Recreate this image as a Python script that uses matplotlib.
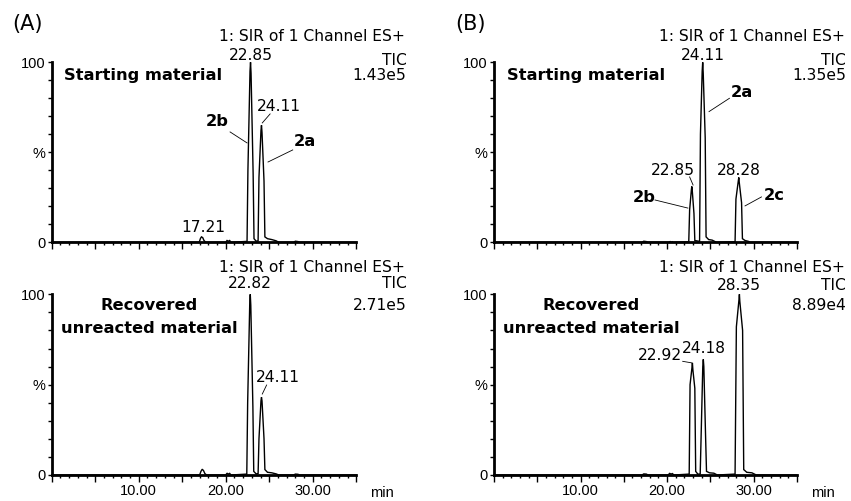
import matplotlib
matplotlib.use("Agg")
import matplotlib.pyplot as plt
from matplotlib.ticker import MultipleLocator, FixedLocator, FuncFormatter

# ---- chromatogram traces: retention time (min), intensity (%) ----
# (A) starting material
t_a_start = [0.0, 16.95, 17.1, 17.21, 17.35, 17.5, 17.7, 20.0, 20.15, 20.3, 20.45, 20.6,
             22.45, 22.55, 22.79, 22.85, 22.91, 23.15, 23.25, 23.5,
             23.72, 23.82, 24.05, 24.11, 24.17, 24.4, 24.5, 24.8, 25.3, 25.8, 26.1,
             27.8, 28.0, 28.3, 28.5, 35.0]
y_a_start = [0.0, 0.0, 2.2, 3.0, 2.6, 1.0, 0.0, 0.0, 1.0, 0.6, 1.0, 0.0,
             0.5, 40.0, 95.0, 100.0, 94.0, 38.0, 2.0, 0.6,
             0.8, 36.0, 62.0, 65.0, 61.0, 34.0, 3.0, 2.0, 1.5, 0.8, 0.0,
             0.0, 0.6, 0.4, 0.0, 0.0]
# (A) recovered unreacted material
t_a_rec = [0.0, 17.0, 17.15, 17.3, 17.45, 17.6, 17.8, 20.0, 20.15, 20.3, 20.45, 20.6,
           22.42, 22.52, 22.76, 22.82, 22.88, 23.12, 23.22, 23.5,
           23.72, 23.82, 24.05, 24.11, 24.17, 24.4, 24.5, 24.8, 25.3, 25.8, 26.1,
           27.8, 28.0, 28.3, 28.5, 35.0]
y_a_rec = [0.0, 0.0, 2.0, 3.2, 2.4, 0.8, 0.0, 0.0, 1.0, 0.5, 0.9, 0.0,
           0.5, 40.0, 95.0, 100.0, 94.0, 38.0, 2.0, 0.6,
           0.8, 20.0, 41.0, 43.0, 41.0, 20.0, 3.0, 1.5, 1.2, 0.6, 0.0,
           0.0, 0.5, 0.4, 0.0, 0.0]
# (B) starting material
t_b_start = [0.0, 17.1, 17.3, 17.6, 17.8, 20.2, 20.35, 20.5, 20.6, 20.7,
             22.5, 22.6, 22.8, 22.85, 22.9, 23.1, 23.2,
             23.75, 23.85, 24.05, 24.11, 24.17, 24.4, 24.5, 24.8, 25.2, 25.7,
             27.85, 27.95, 28.22, 28.28, 28.34, 28.6, 28.7, 29.0, 29.4, 29.6, 35.0]
y_b_start = [0.0, 0.0, 0.6, 0.4, 0.0, 0.0, 0.4, 0.0, 0.3, 0.0,
             0.3, 18.0, 29.0, 31.0, 29.0, 16.0, 1.0,
             0.5, 60.0, 95.0, 100.0, 94.0, 58.0, 3.0, 1.5, 1.2, 0.0,
             0.3, 24.0, 34.0, 36.0, 33.0, 22.0, 2.0, 1.0, 0.5, 0.0, 0.0]
# (B) recovered unreacted material
t_b_rec = [0.0, 17.1, 17.3, 17.6, 17.8, 20.1, 20.3, 20.45, 20.6, 20.8,
           22.55, 22.65, 22.86, 22.92, 22.98, 23.2, 23.3, 23.55,
           23.82, 23.92, 24.12, 24.18, 24.24, 24.45, 24.55, 24.9, 25.4, 25.8,
           27.85, 28.0, 28.3, 28.35, 28.4, 28.72, 28.85, 29.2, 29.8, 30.3, 35.0]
y_b_rec = [0.0, 0.0, 0.6, 0.5, 0.0, 0.0, 0.9, 0.5, 0.8, 0.0,
           0.5, 50.0, 59.0, 62.0, 58.0, 48.0, 2.0, 0.5,
           0.5, 20.0, 60.0, 64.0, 60.0, 20.0, 2.0, 1.2, 1.0, 0.0,
           0.5, 82.0, 97.0, 100.0, 96.0, 80.0, 3.0, 1.5, 1.2, 0.0, 0.0]

TITLE = "1: SIR of 1 Channel ES+"
TIC_A = ["1.43e5", "2.71e5"]
TIC_B = ["1.35e5", "8.89e4"]
X_LABELS = [10, 20, 30]
Y_LABELS = {0: "0", 50: "%", 100: "100"}

TXT = dict(fontsize=11.2, family="DejaVu Sans", clip_on=False)
BOLD = dict(fontsize=11.7, family="DejaVu Sans", fontweight="bold", clip_on=False)
TICKFONT = "Liberation Sans"
TICKSIZE = 10.5


def setup(ax, labels):
    ax.set_xlim(0, 35)
    ax.set_ylim(0, 100)
    for s in ("top", "right"):
        ax.spines[s].set_visible(False)
    for s in ("left", "bottom"):
        ax.spines[s].set_linewidth(2.0)
    ax.xaxis.set_major_locator(MultipleLocator(5))
    ax.xaxis.set_minor_locator(MultipleLocator(1))
    ax.xaxis.set_major_formatter(FuncFormatter(
        lambda v, p: f"{v:.2f}" if (labels and round(v) in X_LABELS) else ""))
    ax.yaxis.set_major_locator(FixedLocator(list(Y_LABELS)))
    ax.yaxis.set_major_formatter(FuncFormatter(lambda v, p: Y_LABELS.get(int(round(v)), "")))
    ax.yaxis.set_minor_locator(MultipleLocator(10))
    ax.tick_params(axis="x", which="major", direction="out", length=5, width=1, pad=1.5,
                   labelsize=TICKSIZE)
    ax.tick_params(axis="x", which="minor", direction="out", length=2.5, width=1)
    ax.tick_params(axis="y", which="both", direction="out", length=3, width=1, pad=1.5,
                   labelsize=TICKSIZE)
    for lab in ax.get_xticklabels() + ax.get_yticklabels():
        lab.set_family(TICKFONT)
    ax.set_facecolor("none")


def trace(ax, t, y):
    ax.plot(t, y, color="black", lw=1.0, clip_on=False, solid_joinstyle="miter")


def lead(ax, x0, y0, x1, y1):
    ax.plot([x0, x1], [y0, y1], color="black", lw=0.6, clip_on=False)


def header(ax, xr, title_y, tic_y, tic_val, val_y):
    ax.text(xr, title_y, TITLE, ha="right", va="baseline", **TXT)
    ax.text(xr + 0.2, tic_y, "TIC", ha="right", va="baseline", **TXT)
    ax.text(xr + 0.2, val_y, tic_val, ha="right", va="baseline", **TXT)


def min_label(ax):
    ax.text(36.6, -12.4, "min", ha="left", va="baseline", fontsize=TICKSIZE,
            family=TICKFONT, clip_on=False)


fig = plt.figure(figsize=(8.51, 5.01), dpi=100)
axA1 = fig.add_axes([0.0608, 0.5164, 0.3578, 0.3593])
axA2 = fig.add_axes([0.0608, 0.0519, 0.3578, 0.3607])
axB1 = fig.add_axes([0.5805, 0.5164, 0.3560, 0.3593])
axB2 = fig.add_axes([0.5805, 0.0519, 0.3560, 0.3607])

setup(axA1, False)
setup(axA2, True)
setup(axB1, False)
setup(axB2, True)

fig.text(12 / 851, 1 - 30 / 501, "(A)", fontsize=15, family="DejaVu Sans", va="baseline")
fig.text(455 / 851, 1 - 30 / 501, "(B)", fontsize=15, family="DejaVu Sans", va="baseline")

# ---- (A) starting material ----
trace(axA1, t_a_start, y_a_start)
header(axA1, 40.6, 111.8, 98.5, TIC_A[0], 90.2)
axA1.text(1.4, 90.2, "Starting material", ha="left", va="baseline", **BOLD)
axA1.text(22.85, 101.3, "22.85", ha="center", va="baseline", **TXT)
axA1.text(26.1, 73.0, "24.11", ha="center", va="baseline", **TXT)
lead(axA1, 25.1, 71.3, 24.2, 66.3)
axA1.text(19.0, 64.6, "2b", ha="center", va="baseline", **BOLD)
lead(axA1, 20.5, 61.3, 22.45, 55.2)
axA1.text(29.1, 53.5, "2a", ha="center", va="baseline", **BOLD)
lead(axA1, 27.7, 51.3, 24.86, 44.6)
axA1.text(17.4, 5.7, "17.21", ha="center", va="baseline", **TXT)

# ---- (A) recovered ----
trace(axA2, t_a_rec, y_a_rec)
header(axA2, 40.6, 112.3, 103.5, TIC_A[1], 91.3)
axA2.text(11.2, 91.3, "Recovered", ha="center", va="baseline", **BOLD)
axA2.text(11.2, 78.6, "unreacted material", ha="center", va="baseline", **BOLD)
axA2.text(22.82, 103.5, "22.82", ha="center", va="baseline", **TXT)
axA2.text(26.0, 51.5, "24.11", ha="center", va="baseline", **TXT)
lead(axA2, 24.7, 49.8, 24.2, 44.8)
min_label(axA2)

# ---- (B) starting material ----
trace(axB1, t_b_start, y_b_start)
header(axB1, 40.5, 111.8, 98.5, TIC_B[0], 90.2)
axB1.text(1.5, 90.2, "Starting material", ha="left", va="baseline", **BOLD)
axB1.text(24.11, 101.3, "24.11", ha="center", va="baseline", **TXT)
axB1.text(28.6, 80.5, "2a", ha="center", va="baseline", **BOLD)
lead(axB1, 27.2, 80.0, 24.84, 72.6)
axB1.text(20.65, 37.4, "22.85", ha="center", va="baseline", **TXT)
lead(axB1, 22.6, 36.3, 23.0, 31.8)
axB1.text(28.27, 37.4, "28.28", ha="center", va="baseline", **TXT)
axB1.text(17.3, 22.4, "2b", ha="center", va="baseline", **BOLD)
lead(axB1, 18.6, 23.5, 22.4, 19.0)
axB1.text(32.4, 23.5, "2c", ha="center", va="baseline", **BOLD)
lead(axB1, 30.9, 25.2, 29.0, 20.2)

# ---- (B) recovered ----
trace(axB2, t_b_rec, y_b_rec)
header(axB2, 40.5, 112.3, 102.4, TIC_B[1], 91.3)
axB2.text(11.2, 91.3, "Recovered", ha="center", va="baseline", **BOLD)
axB2.text(11.2, 78.6, "unreacted material", ha="center", va="baseline", **BOLD)
axB2.text(28.35, 102.4, "28.35", ha="center", va="baseline", **TXT)
axB2.text(21.7, 63.6, "22.92", ha="right", va="baseline", **TXT)
lead(axB2, 21.8, 62.9, 22.9, 62.0)
axB2.text(24.2, 67.3, "24.18", ha="center", va="baseline", **TXT)
min_label(axB2)

fig.savefig("out.png", dpi=100)
